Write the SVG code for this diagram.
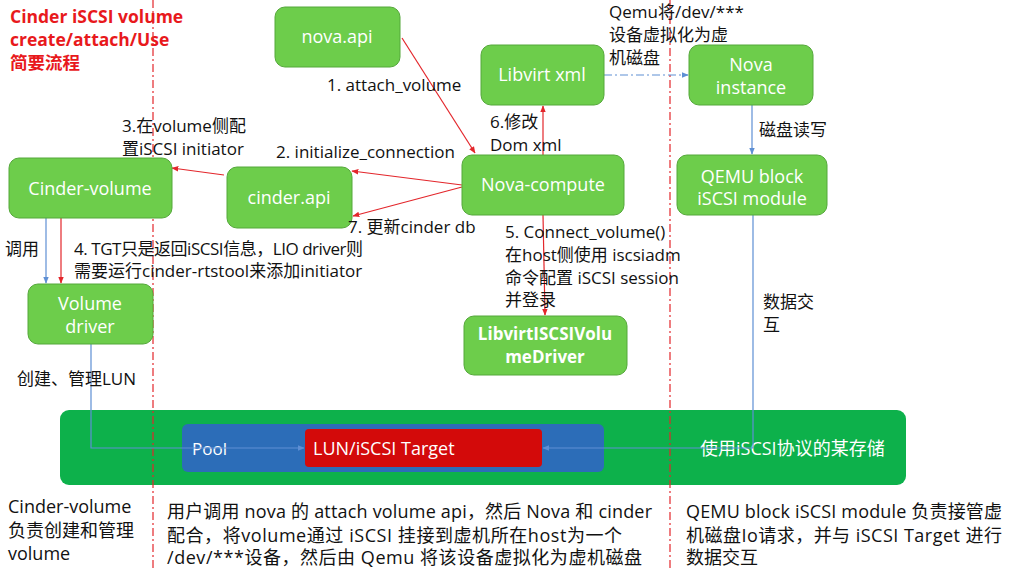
<svg xmlns="http://www.w3.org/2000/svg" width="1012" height="571" viewBox="0 0 1012 571">
<style>
text{font-family:"Open Sans","Noto Sans CJK SC",sans-serif;font-size:17px;fill:#111}
.title{fill:#E8191C;font-weight:bold;font-size:17.5px}
.node{fill:#6DCD4B;stroke:#55A83B;stroke-width:1}
.nt{fill:#fff;font-size:18px;text-anchor:middle}
.nb{font-weight:bold;font-size:17px}
.red{stroke:#E3262B;stroke-width:1.2;fill:none}
.blue{stroke:#5E8FD4;stroke-width:1.2;fill:none}
.sep{stroke:#E3262B;stroke-width:1.2;stroke-dasharray:8 3 2 3;fill:none}
.wt{fill:#fff}
.bt{font-size:18px}
</style>
<defs>
<marker id="ar" viewBox="0 0 10 10" refX="9" refY="5" markerWidth="7" markerHeight="7" orient="auto" markerUnits="userSpaceOnUse"><path d="M0,1 L10,5 L0,9 z" fill="#E3262B"/></marker>
<marker id="ab" viewBox="0 0 10 10" refX="9" refY="5" markerWidth="7" markerHeight="7" orient="auto" markerUnits="userSpaceOnUse"><path d="M0,1 L10,5 L0,9 z" fill="#5E8FD4"/></marker>
</defs>
<rect width="1012" height="571" fill="#fff"/>

<g id="title">
<text class="title" x="10" y="23">Cinder iSCSI volume</text>
<text class="title" x="10" y="46">create/attach/Use</text>
<text class="title" x="10" y="69">简要流程</text>
</g>

<g id="storage">
<rect x="60" y="410" width="846" height="75" rx="9" fill="#0DB14B"/>
<rect x="182" y="424" width="422" height="48" rx="6" fill="#2C6DB8"/>
<rect x="305" y="429" width="237" height="38" rx="4" fill="#D30A0A"/>
<text class="wt" x="192" y="455">Pool</text>
<text class="wt" x="313" y="455" style="font-size:18px">LUN/iSCSI Target</text>
<text class="wt" x="700" y="455" style="font-size:18px">使用iSCSI协议的某存储</text>
</g>

<g id="separators">
<line class="sep" x1="153" y1="0" x2="153" y2="571"/>
<line class="sep" x1="670" y1="0" x2="670" y2="571"/>
</g>

<g id="connectors">
<line class="red" x1="402" y1="38" x2="475" y2="153" marker-end="url(#ar)"/>
<line class="red" x1="462" y1="185" x2="352" y2="171" marker-end="url(#ar)"/>
<line class="red" x1="462" y1="187" x2="353" y2="216" marker-end="url(#ar)"/>
<line class="red" x1="224" y1="175" x2="172" y2="168" marker-end="url(#ar)"/>
<line class="blue" x1="46" y1="218" x2="46" y2="283" marker-end="url(#ab)"/>
<line class="red" x1="61" y1="218" x2="61" y2="283" marker-end="url(#ar)"/>
<line class="red" x1="543" y1="155" x2="543" y2="106" marker-end="url(#ar)"/>
<line class="red" x1="543" y1="215" x2="545" y2="315" marker-end="url(#ar)"/>
<line class="blue" x1="604" y1="75" x2="688" y2="75" stroke-dasharray="8 3 2 3" marker-end="url(#ab)"/>
<line class="blue" x1="752" y1="105" x2="752" y2="154" marker-end="url(#ab)"/>
<polyline class="blue" points="91,344 91,448 304,448" marker-end="url(#ab)"/>
<polyline class="blue" points="753,215 753,448 543,448" marker-end="url(#ab)"/>
</g>

<g id="nova-api">
<rect class="node" x="275" y="7" width="125" height="60" rx="10"/>
<text class="nt" x="337" y="43">nova.api</text>
</g>
<g id="libvirt-xml">
<rect class="node" x="481" y="45" width="123" height="60" rx="10"/>
<text class="nt" x="542" y="81">Libvirt xml</text>
</g>
<g id="nova-instance">
<rect class="node" x="689" y="45" width="124" height="60" rx="10"/>
<text class="nt" x="751" y="71">Nova</text>
<text class="nt" x="751" y="94">instance</text>
</g>
<g id="nova-compute">
<rect class="node" x="462" y="155" width="162" height="60" rx="10"/>
<text class="nt" x="543" y="191">Nova-compute</text>
</g>
<g id="qemu-block">
<rect class="node" x="677" y="155" width="150" height="60" rx="10"/>
<text class="nt" x="752" y="183">QEMU block</text>
<text class="nt" x="752" y="205">iSCSI module</text>
</g>
<g id="cinder-volume">
<rect class="node" x="9" y="158" width="163" height="60" rx="10"/>
<text class="nt" x="90" y="195">Cinder-volume</text>
</g>
<g id="cinder-api">
<rect class="node" x="227" y="167" width="125" height="61" rx="10"/>
<text class="nt" x="289" y="204">cinder.api</text>
</g>
<g id="volume-driver">
<rect class="node" x="28" y="284" width="125" height="60" rx="10"/>
<text class="nt" x="90" y="310">Volume</text>
<text class="nt" x="90" y="333">driver</text>
</g>
<g id="libvirt-iscsi-driver">
<rect class="node" x="464" y="316" width="163" height="59" rx="10"/>
<text class="nt nb" x="545" y="340">LibvirtISCSIVolu</text>
<text class="nt nb" x="545" y="363">meDriver</text>
</g>

<g id="labels">
<text x="327" y="91">1. attach_volume</text>
<text x="122" y="132">3.在volume侧配</text>
<text x="122" y="155">置iSCSI initiator</text>
<text x="276" y="158">2. initialize_connection</text>
<text x="348" y="233">7. 更新cinder db</text>
<text x="490" y="128">6.修改</text>
<text x="490" y="151">Dom xml</text>
<text x="609" y="18">Qemu将/dev/***</text>
<text x="609" y="41">设备虚拟化为虚</text>
<text x="609" y="64">机磁盘</text>
<text x="759" y="136">磁盘读写</text>
<text x="5" y="255">调用</text>
<text x="74" y="255" textLength="289">4. TGT只是返回iSCSI信息，LIO driver则</text>
<text x="74" y="277">需要运行cinder-rtstool来添加initiator</text>
<text x="17" y="385">创建、管理LUN</text>
<text x="505" y="238">5. Connect_volume()</text>
<text x="505" y="261">在host侧使用 iscsiadm</text>
<text x="505" y="284">命令配置 iSCSI session</text>
<text x="505" y="306">并登录</text>
<text x="763" y="308">数据交</text>
<text x="763" y="331">互</text>
<text class="bt" x="8" y="513">Cinder-volume</text>
<text class="bt" x="8" y="537">负责创建和管理</text>
<text class="bt" x="8" y="560">volume</text>
<text class="bt" x="167" y="518" textLength="485">用户调用 nova 的 attach volume api，然后 Nova 和 cinder</text>
<text class="bt" x="167" y="542" textLength="455">配合，将volume通过 iSCSI 挂接到虚机所在host为一个</text>
<text class="bt" x="167" y="564" textLength="475">/dev/***设备，然后由 Qemu 将该设备虚拟化为虚机磁盘</text>
<text class="bt" x="686" y="518" textLength="316">QEMU block iSCSI module 负责接管虚</text>
<text class="bt" x="686" y="542" textLength="316">机磁盘Io请求，并与 iSCSI Target 进行</text>
<text class="bt" x="686" y="564">数据交互</text>
</g>
</svg>
